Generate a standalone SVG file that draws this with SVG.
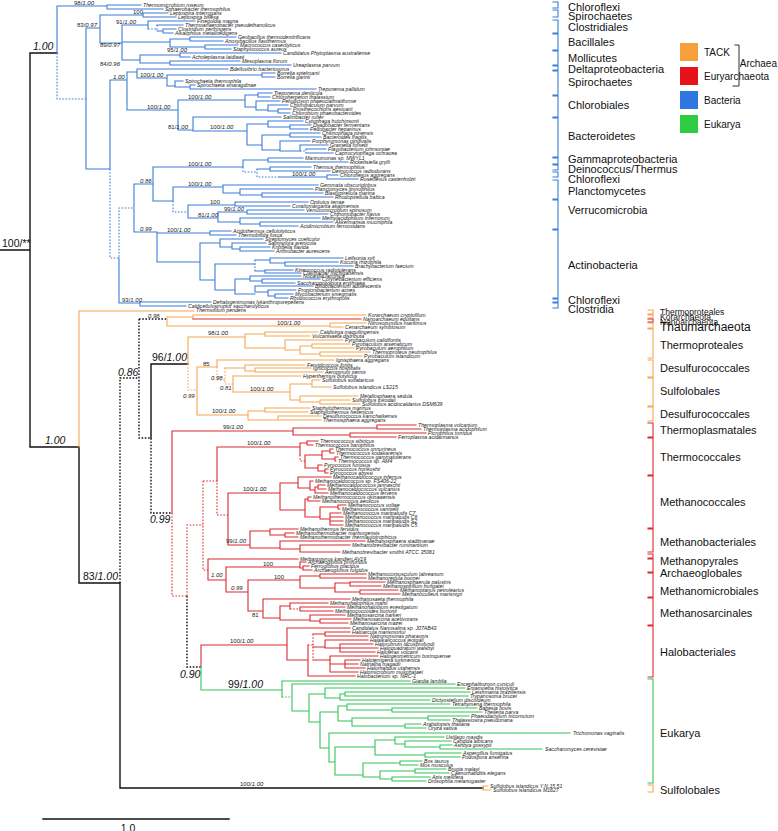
<svg xmlns="http://www.w3.org/2000/svg" width="778" height="831" viewBox="0 0 778 831">
<style>
path{fill:none;stroke-linecap:square}
.b{stroke:#3B7DD8;stroke-width:1.1}
.o{stroke:#F6A650;stroke-width:1.1}
.r{stroke:#DA2A2F;stroke-width:1.1}
.g{stroke:#35C456;stroke-width:1.1}
.k{stroke:#111;stroke-width:1.4}
.d{stroke-dasharray:1.6,1.6;stroke-linecap:butt}
.t{font-family:"Liberation Sans",Arial,sans-serif;font-style:italic;font-size:5.2px;fill:#222}
.s{font-family:"Liberation Sans",Arial,sans-serif;font-size:6px;fill:#222}
.m{font-family:"Liberation Sans",Arial,sans-serif;font-size:10.5px;fill:#111}
.c{font-family:"Liberation Sans",Arial,sans-serif;font-size:11px;fill:#111}
.l{font-family:"Liberation Sans",Arial,sans-serif;font-size:10px;fill:#111}
.i{font-style:italic}
</style>
<g id="connectors">
<path class="k" d="M0,250 H30 M30,53 V447 M30,53 H57 M30,447 H79 M79,447 V583 H120 V788 H483 M151,364 V438 M151,364 H188"/>
<path class="k d" d="M120,583 V378 H139 M139,319 V438 H151 V513 H172 M139,319 H167 M187,596 V667 H201"/>
<path class="b" d="M57,53 V6 H107 M107,5 V9 M107,5 H141 M107,9 H163
M86,28 V169 M86,28 H100 M100,15 V43 M100,15 H143 M143,13 V17 M143,13 H168 M143,17 H176
M100,43 H122 M122,25 V60 M122,25 H148 M148,21 V29 M148,21 H195
M157,25 H183 M157,31 H163 M163,29 V33 M163,29 H176 M163,33 H173
M122,42 H170 M170,39 V47 M170,39 H190 M190,37 V41 M190,37 H236 M190,41 H223 M170,47 H205 M205,45 V49 M205,45 H238 M205,49 H231
M122,60 H140 M140,55 V63 M140,55 H180 M180,53 V57 M180,53 H281 M180,57 H190 M140,63 H170 M170,61 V65 M170,61 H240 M170,65 H291
M86,169 H110 M110,80 V169
M110,80 H127 M127,72 V110 M127,72 H137 M137,69 V78 M137,69 H228 M137,78 H167 M167,75 V86 M167,75 H262 M262,73 V77 M262,73 H275 M262,77 H275 M167,86 H175 M175,81 V87 M175,81 H183 M175,87 H190 M190,85 V89 M190,85 H195 M190,89 H316
M127,110 H178 M178,100 V130 M178,100 H245 M245,95 V107 M245,95 H258 M258,93 V97 M258,93 H272 M258,97 H270 M245,107 H256 M256,101 V110 M256,101 H280 M256,110 H268 M268,105 V111 M268,105 H288 M268,111 H278 M278,109 V113 M278,109 H291 M278,113 H290
M178,130 H193 M193,117 V131 M193,117 H281 M193,131 H247 M247,124 V145 M247,124 H268 M268,121 V127 M268,121 H303 M268,127 H290 M290,125 V129 M290,125 H311 M290,129 H308
M247,145 H262 M262,135 V150 M262,135 H290 M290,133 V137 M290,133 H320 M290,137 H321 M262,150 H280 M280,141 V151 M280,141 H310 M280,151 H300 M300,145 V151 M300,145 H328
M306,149 H326 M306,153 H333
M119,258 V303 H140 M140,302 V306 M140,302 H211 M140,306 H186
M134,184 V232 M134,184 H153 M153,167 V201 M153,167 H243 M243,160 V167 M243,160 H268 M268,158 V162 M268,158 H303 M268,162 H348
M257,169 H270 M270,167 V171 M270,167 H311 M270,171 H330 M279,177 H327 M327,175 V179 M327,175 H338 M327,179 H358
M153,201 H173 M173,187 V201 M173,187 H223 M223,185 V193 M223,185 H318 M223,193 H240 M240,189 V195 M240,189 H313 M240,195 H262 M262,193 V197 M262,193 H323 M262,197 H333
M188,205 V218 M188,205 H235 M235,202 V206 M235,202 H308 M235,206 H290 M188,218 H218 M218,212 V222 M218,212 H247 M247,210 V214 M247,210 H304 M247,214 H328 M218,222 H240 M240,218 V224 M240,218 H320 M240,224 H260 M260,222 V226 M260,222 H333 M260,226 H298
M134,232 H157 M157,233 V262 M157,233 H210 M210,231 V235 M210,231 H231 M210,235 H236 M157,262 H200 M200,243 V280 M200,243 H220 M220,239 V247 M220,239 H263 M220,247 H232 M232,243 V249 M232,243 H266 M232,249 H240 M240,247 V251 M240,247 H270 M240,251 H274
M200,280 H215 M215,264 V290 M215,264 H255
M255,260 H270 M270,258 V263 M270,258 H343 M270,263 H285 M285,262 V266 M285,262 H338 M285,266 H353 M255,271 H265 M265,270 V273 M265,270 H293 M265,273 H301
M215,290 H235 M235,279 V294 M235,279 H250 M250,276 V281 M250,276 H301 M250,281 H262 M262,279 V283 M262,279 H320 M262,283 H295 M235,294 H255 M255,286 V292 M255,286 H313 M255,292 H268 M268,290 V296 M268,290 H296 M268,296 H275 M275,294 V298 M275,294 H293 M275,298 H288"/>
<path class="b d" d="M57,53 V99 H86 M148,29 H157 M157,25 V31 M300,151 H306 M306,149 V153 M110,169 V258 H119 V208 H134 M243,167 V172 H257 M257,169 V177 H279 M173,201 V212 H188 M255,260 V271"/>
<path class="o" d="M79,311 V447 M79,311 H194 M167,317 V326 M167,317 H193 M193,315 V319 M193,315 H366 M167,326 H330 M330,323 V327 M330,323 H366 M330,327 H343
M188,337 V364 M188,337 H245 M245,334 V348 M245,334 H265 M265,332 V336 M265,332 H318 M265,336 H310 M245,348 H285 M285,340 V350 M285,340 H343 M285,350 H300 M300,346 V354 M300,346 H312 M312,344 V348 M312,344 H350 M312,348 H354 M300,354 H320 M320,352 V356 M320,352 H370 M320,356 H362
M197,367 V415 M197,367 H217 M217,360 V367 M217,360 H334
M225,368 H245 M245,365 V371 M245,365 H305 M245,371 H255 M255,368 V372 M255,368 H311 M255,372 H323
M233,376 V392 M233,376 H301 M233,392 H290 M290,384 V400 M290,384 H312 M312,380 V387 M312,380 H320 M312,387 H331 M290,400 H300 M300,396 V402 M300,396 H358 M300,402 H320 M320,400 V404 M320,400 H350 M320,404 H360
M197,415 H248 M248,411 V420 M248,411 H265 M265,408 V412 M265,408 H310 M265,412 H308 M248,420 H278 M278,416 V420 M278,416 H321 M278,420 H321
M483,786 V790 M483,786 H488 M483,790 H491"/>
<path class="o d" d="M188,364 V390 H197 M217,367 V380 H225 M225,368 V384 H233"/>
<path class="r" d="M193,319 H361
M172,431 V513 M172,431 H293 M293,428 V435 M293,428 H377 M377,425 V429 M377,425 H416 M377,429 H421 M293,435 H350 M350,433 V437 M350,433 H426 M350,437 H396
M217,447 V481 M217,447 H300 M300,443 V455 M300,443 H307 M307,441 V445 M307,441 H318 M307,445 H313
M305,455 V468 M305,455 H322 M322,451 V459 M322,451 H330 M330,449 V453 M330,449 H333 M330,453 H334 M322,459 H335 M335,457 V461 M335,457 H338 M335,461 H336 M305,468 H318 M318,465 V471 M318,465 H322 M318,471 H325 M325,469 V473 M325,469 H328 M325,473 H328
M228,493 V545 M228,493 H280 M280,483 V510 M280,483 H298 M298,477 V488 M298,477 H331 M298,488 H310 M310,481 V490 M310,481 H313 M310,490 H315 M315,487 V493 M315,487 H318 M318,485 V489 M318,485 H325 M318,489 H326 M315,493 H328
M280,510 H305 M305,499 V517 M305,499 H308 M308,497 V501 M308,497 H311 M308,501 H320 M305,517 H320 M320,507 V519 M320,507 H338 M338,505 V509 M338,505 H346 M338,509 H340 M320,519 H330 M330,513 V525 M330,513 H341 M330,517 H343 M330,521 H343 M330,525 H343
M228,545 H250 M250,531 V548 M250,531 H270 M270,529 V535 M270,529 H298 M270,535 H285 M285,533 V537 M285,533 H294 M285,537 H298 M250,548 H280 M280,541 V549 M280,541 H365 M280,549 H300 M300,545 V552 M300,545 H350 M300,552 H340
M208,559 V580 M208,559 H298 M208,580 H226 M226,567 V592 M226,567 H300 M300,562 V568 M300,562 H306 M300,568 H303 M303,566 V570 M303,566 H309 M303,570 H312
M226,592 H248 M248,580 V611 M248,580 H300 M300,576 V588 M300,576 H320 M320,574 V578 M320,574 H366 M320,578 H366 M300,588 H335 M335,583 V592 M335,583 H350 M350,582 V586 M350,582 H385 M350,586 H381 M335,592 H360 M360,590 V594 M360,590 H398 M360,594 H400
M248,611 H263 M263,599 V618 M263,599 H350 M263,618 H280 M280,606 V620 M280,606 H290 M290,603 V609 M290,603 H328 M300,607 V611 M300,607 H345 M300,611 H333 M280,620 H310 M310,615 V621 M310,615 H345 M310,621 H320 M320,619 V623 M320,619 H351 M320,623 H348
M201,645 V667 M201,645 H287 M287,628 V660 M287,628 H350 M287,660 H308 M308,645 V676 M308,676 H355
M313,634 H325 M325,632 V636 M325,632 H350 M325,636 H368 M313,647 H325 M325,640 V648 M325,640 H368 M325,648 H340 M340,644 V652 M340,644 H373 M340,648 H378 M340,652 H375 M313,660 H330 M330,656 V672 M330,656 H378 M330,664 H345 M345,660 V668 M345,660 H360 M345,664 H358 M345,668 H365 M330,672 H358"/>
<path class="r d" d="M172,513 V596 H187 M187,596 V525 H203 M203,481 V570 H208 M203,481 H217 V515 H228 M300,455 V461 H305 M290,609 H300 M308,645 H313 M313,634 V660"/>
<path class="g" d="M201,667 V690 M201,690 H282 M282,681 V697 M282,681 H410
M292,684 V711 M292,684 H455 M292,711 H309 M309,694 V722 M309,694 H325 M325,688 V698 M325,688 H465 M325,698 H340 M340,694 V700 M340,694 H345 M345,692 V696 M345,692 H470 M345,696 H468 M340,700 H430
M309,722 H320 M320,712 V748 M320,712 H338 M338,706 V721 M338,706 H347 M347,704 V710 M347,704 H450 M347,710 H392 M392,708 V712 M392,708 H477 M392,712 H482 M338,721 H352 M352,718 V726 M352,718 H428 M428,716 V720 M428,716 H469 M428,720 H450 M352,726 H405 M405,724 V728 M405,724 H421 M405,728 H426
M320,748 H329 M329,733 V762 M329,733 H570 M329,762 H335 M335,747 V775 M335,747 H375 M375,740 V755 M375,740 H395 M395,737 V744 M395,737 H444 M395,744 H405 M405,741 V747 M405,741 H451 M405,747 H440 M440,745 V749 M440,745 H452 M440,749 H542 M375,755 H425 M425,753 V757 M425,753 H461 M425,757 H460
M335,775 H363 M363,763 V777 M363,763 H400 M400,761 V765 M400,761 H422 M400,765 H418 M363,777 H380 M380,771 V779 M380,771 H415 M415,769 V773 M415,769 H446 M415,773 H449 M380,779 H392 M392,777 V781 M392,777 H430 M392,781 H426"/>
<path class="g d" d="M282,697 H292"/>
<path class="k" stroke="#333" stroke-width="2" d="M43,819 H229"/>
</g>
<g id="bacteria-tips" class="t">
<text x="143" y="6.8">Thermomicrobium roseum</text>
<text x="165" y="10.8">Sphaerobacter thermophilus</text>
<text x="170" y="14.8">Leptospira interrogans</text>
<text x="178" y="18.8">Leptospira biflexa</text>
<text x="197" y="22.8">Finegoldia magna</text>
<text x="185" y="26.8">Thermoanaerobacter pseudethanolicus</text>
<text x="178" y="30.8">Clostridium perfringens</text>
<text x="175" y="34.8">Alkaliphilus metalliredigens</text>
<text x="238" y="38.8">Geobacillus thermodenitrificans</text>
<text x="225" y="42.8">Anoxybacillus flavithermus</text>
<text x="240" y="46.8">Macrococcus caseolyticus</text>
<text x="233" y="50.8">Staphylococcus aureus</text>
<text x="283" y="54.8">Candidatus Phytoplasma australiense</text>
<text x="192" y="58.8">Acholeplasma laidlawii</text>
<text x="242" y="62.8">Mesoplasma florum</text>
<text x="293" y="66.8">Ureaplasma parvum</text>
<text x="230" y="70.8">Bdellovibrio bacteriovorus</text>
<text x="277" y="74.8">Borrelia spielmanii</text>
<text x="277" y="78.8">Borrelia garinii</text>
<text x="185" y="82.8">Spirochaeta thermophila</text>
<text x="197" y="86.8">Spirochaeta smaragdinae</text>
<text x="318" y="90.8">Treponema pallidum</text>
<text x="274" y="94.8">Treponema denticola</text>
<text x="272" y="98.8">Chloroherpeton thalassium</text>
<text x="282" y="102.8">Pelodictyon phaeoclathratiforme</text>
<text x="290" y="106.8">Chlorobaculum parvum</text>
<text x="293" y="110.8">Prosthecochloris aestuarii</text>
<text x="292" y="114.8">Chlorobium phaeobacteroides</text>
<text x="283" y="118.8">Salinibacter ruber</text>
<text x="305" y="122.8">Cytophaga hutchinsonii</text>
<text x="313" y="126.8">Dyadobacter fermentans</text>
<text x="310" y="130.8">Pedobacter heparinus</text>
<text x="322" y="134.8">Chitinophaga pinensis</text>
<text x="323" y="138.8">Bacteroides fragilis</text>
<text x="312" y="142.8">Porphyromonas gingivalis</text>
<text x="330" y="146.8">Gramella forsetii</text>
<text x="328" y="150.8">Flavobacterium johnsoniae</text>
<text x="335" y="154.8">Capnocytophaga ochracea</text>
<text x="305" y="159.8">Marinomonas sp. MWYL1</text>
<text x="350" y="163.8">Rickettsiella grylli</text>
<text x="313" y="168.8">Thermus thermophilus</text>
<text x="332" y="172.8">Deinococcus radiodurans</text>
<text x="340" y="176.8">Chloroflexus aggregans</text>
<text x="360" y="180.8">Roseiflexus castenholzii</text>
<text x="320" y="186.8">Gemmata obscuriglobus</text>
<text x="315" y="190.8">Planctomyces limnophilus</text>
<text x="325" y="194.8">Blastopirellula marina</text>
<text x="335" y="198.8">Rhodopirellula baltica</text>
<text x="310" y="203.8">Opitutus terrae</text>
<text x="292" y="207.8">Coraliomargarita akajimensis</text>
<text x="306" y="211.8">Verrucomicrobium spinosum</text>
<text x="330" y="215.8">Chthoniobacter flavus</text>
<text x="322" y="219.8">Methylacidiphilum infernorum</text>
<text x="335" y="223.8">Akkermansia muciniphila</text>
<text x="300" y="227.8">Acidimicrobium ferrooxidans</text>
<text x="233" y="232.8">Acidothermus cellulolyticus</text>
<text x="238" y="236.8">Thermobifida fusca</text>
<text x="265" y="240.8">Streptomyces coelicolor</text>
<text x="268" y="244.8">Salinispora arenicola</text>
<text x="272" y="248.8">Kribbella flavida</text>
<text x="276" y="252.8">Arthrobacter aurescens</text>
<text x="345" y="259.8">Leifsonia xyli</text>
<text x="340" y="263.8">Kocuria rhizophila</text>
<text x="355" y="267.8">Brachybacterium faecium</text>
<text x="295" y="271.8">Kineococcus radiotolerans</text>
<text x="303" y="274.8">Clavibacter michiganensis</text>
<text x="303" y="277.8">Nocardia farcinica</text>
<text x="322" y="280.8">Corynebacterium efficiens</text>
<text x="297" y="284.8">Saccharopolyspora erythraea</text>
<text x="315" y="287.8">Bifidobacterium adolescentis</text>
<text x="298" y="291.8">Propionibacterium acnes</text>
<text x="295" y="295.8">Mycobacterium smegmatis</text>
<text x="290" y="299.8">Rhodococcus erythropolis</text>
<text x="213" y="303.8">Dehalogenimonas lykanthroporepellens</text>
<text x="188" y="307.8">Caldicellulosiruptor saccharolyticus</text>
</g>
<g id="archaea-tips" class="t">
<text x="196" y="312.3">Thermofilum pendens</text>
<text x="368" y="316.8">Korarchaeum cryptofilum</text>
<text x="363" y="320.8">Nanoarchaeum equitans</text>
<text x="368" y="324.8">Nitrosopumilus maritimus</text>
<text x="345" y="328.8">Cenarchaeum symbiosum</text>
<text x="320" y="333.8">Caldivirga maquilingensis</text>
<text x="312" y="337.8">Vulcanisaeta distributa</text>
<text x="345" y="341.8">Pyrobaculum calidifontis</text>
<text x="352" y="345.8">Pyrobaculum arsenaticum</text>
<text x="356" y="349.8">Pyrobaculum aerophilum</text>
<text x="372" y="353.8">Thermoproteus neutrophilus</text>
<text x="364" y="357.8">Pyrobaculum islandicum</text>
<text x="336" y="361.8">Ignisphaera aggregans</text>
<text x="307" y="366.8">Fervidicoccus fontis</text>
<text x="313" y="369.8">Ignicoccus hospitalis</text>
<text x="325" y="373.8">Aeropyrum pernix</text>
<text x="303" y="377.8">Hyperthermus butylicus</text>
<text x="322" y="381.8">Sulfolobus solfataricus</text>
<text x="333" y="388.8">Sulfolobus islandicus LS215</text>
<text x="360" y="397.8">Metallosphaera sedula</text>
<text x="352" y="401.8">Sulfolobus tokodaii</text>
<text x="362" y="405.8">Sulfolobus acidocaldarius DSM639</text>
<text x="312" y="409.8">Staphylothermus marinus</text>
<text x="310" y="413.8">Staphylothermus hellenicus</text>
<text x="323" y="417.8">Desulfurococcus kamchatkensis</text>
<text x="323" y="421.8">Thermosphaera aggregans</text>
<text x="418" y="426.8">Thermoplasma volcanium</text>
<text x="423" y="430.8">Thermoplasma acidophilum</text>
<text x="428" y="434.8">Picrophilus torridus</text>
<text x="398" y="438.8">Ferroplasma acidarmanus</text>
<text x="320" y="442.8">Thermococcus sibiricus</text>
<text x="315" y="446.8">Thermococcus barophilus</text>
<text x="335" y="450.8">Thermococcus onnurineus</text>
<text x="336" y="454.8">Thermococcus kodakarensis</text>
<text x="340" y="458.8">Thermococcus gammatolerans</text>
<text x="338" y="462.8">Thermococcus sp. AM4</text>
<text x="324" y="466.8">Pyrococcus furiosus</text>
<text x="330" y="470.8">Pyrococcus horikoshii</text>
<text x="330" y="474.8">Pyrococcus abyssi</text>
<text x="333" y="478.8">Methanocaldococcus infernus</text>
<text x="315" y="482.8">Methanocaldococcus sp. FS406-22</text>
<text x="327" y="486.8">Methanocaldococcus jannaschii</text>
<text x="328" y="490.8">Methanocaldococcus vulcanius</text>
<text x="330" y="494.8">Methanocaldococcus fervens</text>
<text x="313" y="498.8">Methanothermococcus okinawensis</text>
<text x="322" y="502.8">Methanococcus aeolicus</text>
<text x="348" y="506.8">Methanococcus voltae</text>
<text x="342" y="510.8">Methanococcus vannielii</text>
<text x="343" y="514.8">Methanococcus maripaludis C7</text>
<text x="345" y="518.8">Methanococcus maripaludis C6</text>
<text x="345" y="522.8">Methanococcus maripaludis S2</text>
<text x="345" y="526.8">Methanococcus maripaludis C5</text>
<text x="300" y="530.8">Methanothermus fervidus</text>
<text x="296" y="534.8">Methanothermobacter marburgensis</text>
<text x="300" y="538.8">Methanothermobacter thermautotrophicus</text>
<text x="367" y="542.8">Methanosphaera stadtmanae</text>
<text x="352" y="546.8">Methanobrevibacter ruminantium</text>
<text x="342" y="553.8">Methanobrevibacter smithii ATCC 35061</text>
<text x="300" y="560.8">Methanopyrus kandleri AV19</text>
<text x="308" y="563.8">Archaeoglobus profundus</text>
<text x="311" y="567.8">Ferroglobus placidus</text>
<text x="314" y="571.8">Archaeoglobus fulgidus</text>
<text x="368" y="575.8">Methanocorpusculum labreanum</text>
<text x="368" y="579.8">Methanoregula boonei</text>
<text x="387" y="583.8">Methanosphaerula palustris</text>
<text x="383" y="587.8">Methanospirillum hungatei</text>
<text x="400" y="591.8">Methanoplanus petrolearius</text>
<text x="402" y="595.8">Methanoculleus marisnigri</text>
<text x="352" y="600.8">Methanosaeta thermophila</text>
<text x="330" y="604.8">Methanohalophilus mahii</text>
<text x="347" y="608.8">Methanohalobium evestigatum</text>
<text x="335" y="612.8">Methanococcoides burtonii</text>
<text x="347" y="616.8">Methanosarcina barkeri</text>
<text x="353" y="620.8">Methanosarcina acetivorans</text>
<text x="350" y="624.8">Methanosarcina mazei</text>
<text x="352" y="629.8">Candidatus Nanosalina sp. J07AB43</text>
<text x="352" y="633.8">Haloarcula marismortui</text>
<text x="370" y="637.8">Natronomonas pharaonis</text>
<text x="370" y="641.8">Halalkalicoccus jeotgali</text>
<text x="375" y="645.8">Halorubrum lacusprofundi</text>
<text x="380" y="649.8">Haloquadratum walsbyi</text>
<text x="377" y="653.8">Haloferax volcanii</text>
<text x="380" y="657.8">Halogeometricum borinquense</text>
<text x="362" y="661.8">Haloterrigena turkmenica</text>
<text x="360" y="665.8">Natrialba magadii</text>
<text x="367" y="669.8">Halorhabdus utahensis</text>
<text x="360" y="673.8">Halomicrobium mukohataei</text>
<text x="357" y="677.8">Halobacterium sp. NRC-1</text>
<text x="490" y="787.8">Sulfolobus islandicus Y.N.15.51</text>
<text x="493" y="791.8">Sulfolobus islandicus M1627</text>
</g>
<g id="eukarya-tips" class="t">
<text x="412" y="682.8">Giardia lamblia</text>
<text x="457" y="685.8">Encephalitozoon cuniculi</text>
<text x="467" y="689.8">Entamoeba histolytica</text>
<text x="472" y="693.8">Leishmania braziliensis</text>
<text x="470" y="697.8">Trypanosoma brucei</text>
<text x="432" y="701.8">Dictyostelium discoideum</text>
<text x="452" y="705.8">Tetrahymena thermophila</text>
<text x="479" y="709.8">Babesia bovis</text>
<text x="484" y="713.8">Theileria parva</text>
<text x="471" y="717.8">Phaeodactylum tricornutum</text>
<text x="452" y="721.8">Thalassiosira pseudonana</text>
<text x="423" y="725.8">Arabidopsis thaliana</text>
<text x="428" y="729.8">Oryza sativa</text>
<text x="573" y="734.8">Trichomonas vaginalis</text>
<text x="446" y="738.8">Ustilago maydis</text>
<text x="453" y="742.8">Candida albicans</text>
<text x="454" y="746.8">Ashbya gossypii</text>
<text x="545" y="750.8">Saccharomyces cerevisiae</text>
<text x="463" y="754.8">Aspergillus fumigatus</text>
<text x="462" y="758.8">Podospora anserina</text>
<text x="424" y="762.8">Bos taurus</text>
<text x="420" y="766.8">Mus musculus</text>
<text x="448" y="770.8">Brugia malayi</text>
<text x="451" y="774.8">Caenorhabditis elegans</text>
<text x="432" y="778.8">Apis mellifera</text>
<text x="428" y="782.8">Drosophila melanogaster</text>
</g>
<g id="support-values" class="s">
<text x="74" y="5">98/<tspan class="i">1.00</tspan></text>
<text x="77" y="27">83/<tspan class="i">0.97</tspan></text>
<text x="133" y="13.5">100</text>
<text x="116" y="24">91/<tspan class="i">1.00</tspan></text>
<text x="100" y="47">89/<tspan class="i">0.97</tspan></text>
<text x="167" y="51.5">95/<tspan class="i">1.00</tspan></text>
<text x="100" y="66">84/<tspan class="i">0.96</tspan></text>
<text x="113" y="79" class="i">1.00</text>
<text x="140" y="77">100/<tspan class="i">1.00</tspan></text>
<text x="188" y="99">100/<tspan class="i">1.00</tspan></text>
<text x="147" y="109">100/<tspan class="i">1.00</tspan></text>
<text x="168" y="129">81/<tspan class="i">1.00</tspan></text>
<text x="210" y="129">100/<tspan class="i">1.00</tspan></text>
<text x="188" y="166">100/<tspan class="i">1.00</tspan></text>
<text x="292" y="176">100/<tspan class="i">1.00</tspan></text>
<text x="140" y="183" class="i">0.86</text>
<text x="188" y="186">100/<tspan class="i">1.00</tspan></text>
<text x="210" y="204">100</text>
<text x="224" y="211">99/<tspan class="i">1.00</tspan></text>
<text x="198" y="217">81/<tspan class="i">1.00</tspan></text>
<text x="140" y="231" class="i">0.99</text>
<text x="167" y="232">100/<tspan class="i">1.00</tspan></text>
<text x="122" y="302">93/<tspan class="i">1.00</tspan></text>
<text x="148" y="318" class="i">0.96</text>
<text x="277" y="325">100/<tspan class="i">1.00</tspan></text>
<text x="208" y="335">98/<tspan class="i">1.00</tspan></text>
<text x="203" y="366">85</text>
<text x="211" y="380" class="i">0.98</text>
<text x="220" y="390" class="i">0.81</text>
<text x="250" y="391">100/<tspan class="i">1.00</tspan></text>
<text x="183" y="398" class="i">0.99</text>
<text x="212" y="413">100/<tspan class="i">1.00</tspan></text>
<text x="223" y="429">99/<tspan class="i">1.00</tspan></text>
<text x="247" y="445">100/<tspan class="i">1.00</tspan></text>
<text x="243" y="491">100/<tspan class="i">1.00</tspan></text>
<text x="226" y="543">99/<tspan class="i">1.00</tspan></text>
<text x="211" y="577" class="i">1.00</text>
<text x="263" y="566">100</text>
<text x="231" y="590" class="i">0.99</text>
<text x="274" y="579">100</text>
<text x="252" y="617">81</text>
<text x="230" y="643">100/<tspan class="i">1.00</tspan></text>
<text x="240" y="786">100/<tspan class="i">1.00</tspan></text>
</g>
<g id="major-support" class="m">
<text x="2" y="247">100/**</text>
<text x="33" y="50" class="i">1.00</text>
<text x="45" y="444" class="i">1.00</text>
<text x="118" y="376" class="i">0.86</text>
<text x="152" y="361">96/<tspan class="i">1.00</tspan></text>
<text x="150" y="523" class="i">0.99</text>
<text x="83" y="580">83/<tspan class="i">1.00</tspan></text>
<text x="180" y="678" class="i">0.90</text>
<text x="228" y="688">99/<tspan class="i">1.00</tspan></text>
<text x="128" y="832" text-anchor="middle">1.0</text>
</g>
<g id="bacteria-groups">
<path class="b" d="M553,2 H558 V8 H553 M553,10 H558 V17 H553 M553,20 H558 V33 H553 M553,34 H558 V50 H553 M553,51 H558 V65 H553 M553,66 H558 V70 H553 M553,71 H558 V95 H553 M553,96 H558 V117 H553 M553,118 H558 V157 H553 M553,158 H558 V164 H553 M553,165 H558 V170 H553 M553,172 H558 V177 H553 M553,180 H558 V199 H553 M553,200 H558 V229 H553 M553,230 H558 V298 H553 M553,299 H558 V302 H553 M553,303 H558 V308 H553"/>
<g class="c">
<text x="568" y="11">Chloroflexi</text>
<text x="568" y="20">Spirochaetes</text>
<text x="568" y="31">Clostridiales</text>
<text x="568" y="46">Bacillales</text>
<text x="568" y="62">Mollicutes</text>
<text x="568" y="73">Deltaproteobacteria</text>
<text x="568" y="86">Spirochaetes</text>
<text x="568" y="109">Chlorobiales</text>
<text x="568" y="140">Bacteroidetes</text>
<text x="568" y="163">Gammaproteobacteria</text>
<text x="568" y="173">Deinococcus/Thermus</text>
<text x="568" y="183">Chloroflexi</text>
<text x="568" y="195">Planctomycetes</text>
<text x="568" y="214">Verrucomicrobia</text>
<text x="568" y="269">Actinobacteria</text>
<text x="568" y="304">Chloroflexi</text>
<text x="568" y="313">Clostridia</text>
</g>
</g>
<g id="archaea-groups">
<path class="o" d="M648,310 H653 V314 H648 M648,315 H653 V318 H648 M648,323 H653 V328 H648 M648,329 H653 V358 H648 M648,360 H653 V377 H648 M648,378 H653 V406 H648 M648,407 H653 V421 H648 M648,785 H653 V792 H648"/>
<path class="r" d="M648,319 H653 V322 H648 M648,423 H653 V437 H648 M648,438 H653 V475 H648 M648,476 H653 V528 H648 M648,529 H653 V552 H648 M648,554 H653 V558 H648 M648,559 H653 V572 H648 M648,573 H653 V597 H648 M648,598 H653 V625 H648 M648,626 H653 V677 H648"/>
<path class="g" d="M648,679 H653 V783 H648"/>
<g class="c">
<text x="660" y="314.5" font-size="8.5">Thermoproteales</text>
<text x="660" y="319.5" font-size="8.5">Korarchaeota</text>
<text x="660" y="324.5" font-size="8.5">Nanoarchaeota</text>
<text x="660" y="331" font-size="12">Thaumarchaeota</text>
<text x="660" y="349">Thermoproteales</text>
<text x="660" y="372">Desulfurococcales</text>
<text x="660" y="395">Sulfolobales</text>
<text x="660" y="418">Desulfurococcales</text>
<text x="660" y="434">Thermoplasmatales</text>
<text x="660" y="461">Thermococcales</text>
<text x="660" y="506">Methanococcales</text>
<text x="660" y="546">Methanobacteriales</text>
<text x="660" y="565">Methanopyrales</text>
<text x="660" y="577">Archaeoglobales</text>
<text x="660" y="595">Methanomicrobiales</text>
<text x="660" y="617">Methanosarcinales</text>
<text x="660" y="656">Halobacteriales</text>
<text x="660" y="737">Eukarya</text>
<text x="660" y="794">Sulfolobales</text>
</g>
</g>
<g id="legend">
<rect x="680" y="43" width="18" height="18" fill="#F79F3B"/>
<rect x="680" y="67" width="18" height="18" fill="#E5121A"/>
<rect x="680" y="91" width="18" height="18" fill="#2F77E0"/>
<rect x="680" y="115" width="18" height="18" fill="#2ECC40"/>
<g class="l">
<text x="704" y="56">TACK</text>
<text x="704" y="80">Euryarchaeota</text>
<text x="704" y="104">Bacteria</text>
<text x="704" y="128">Eukarya</text>
<text x="777" y="67" text-anchor="end">Archaea</text>
</g>
<path d="M735,45 H739 V86 H733" stroke="#333" stroke-width="1" fill="none"/>
</g>
</svg>
